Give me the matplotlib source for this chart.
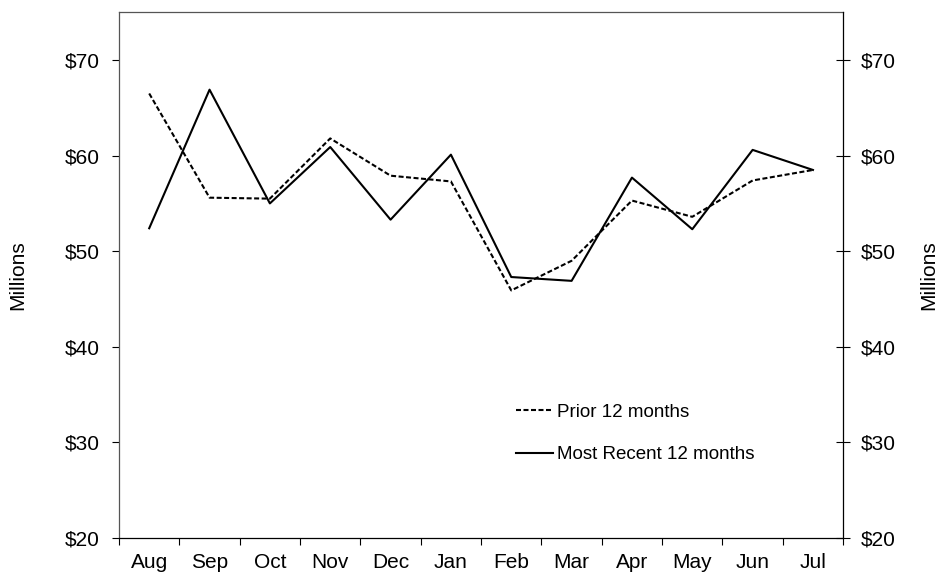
import matplotlib
matplotlib.use("Agg")
import matplotlib.pyplot as plt
from matplotlib.ticker import FixedLocator, FuncFormatter

plt.rcParams["font.family"] = ["Liberation Sans", "DejaVu Sans"]

# ---------------------------------------------------------------------------
# Data (millions of dollars)
# ---------------------------------------------------------------------------
months = ["Aug", "Sep", "Oct", "Nov", "Dec", "Jan",
          "Feb", "Mar", "Apr", "May", "Jun", "Jul"]
prior_12 = [66.5, 55.6, 55.5, 61.8, 57.9, 57.3,
            45.9, 49.0, 55.3, 53.6, 57.4, 58.5]
recent_12 = [52.4, 66.9, 55.0, 60.9, 53.3, 60.1,
             47.3, 46.9, 57.7, 52.3, 60.6, 58.5]
y_ticks = [20, 30, 40, 50, 60, 70]

# ---------------------------------------------------------------------------
# Plot
# ---------------------------------------------------------------------------
fig = plt.figure(figsize=(9.41, 5.74), dpi=100)
ax = fig.add_axes([0.1265, 0.0627, 0.7695, 0.916])

x = list(range(len(months)))
ax.plot(x, prior_12, color="black", linewidth=1.5, dashes=(2.4, 1.2),
        label="Prior 12 months")
ax.plot(x, recent_12, color="black", linewidth=1.5,
        label="Most Recent 12 months")

ax.set_xlim(-0.5, len(months) - 0.5)
ax.set_ylim(20, 75)

money = FuncFormatter(lambda v, _: f"${v:.0f}")

# x: ticks at the category boundaries, labels centred
ax.xaxis.set_major_locator(FixedLocator([i - 0.5 for i in range(len(months) + 1)]))
ax.xaxis.set_major_formatter(FuncFormatter(lambda v, _: ""))
ax.xaxis.set_minor_locator(FixedLocator(x))
ax.set_xticklabels(months, minor=True)
ax.tick_params(axis="x", which="major", direction="out", length=5, width=0.8)
ax.tick_params(axis="x", which="minor", length=0, labelsize=15, pad=11)

ax.set_yticks(y_ticks)
ax.yaxis.set_major_formatter(money)
ax.tick_params(axis="y", direction="out", length=5, width=0.8,
               labelsize=15, pad=9)
ax.set_ylabel("Millions", fontsize=15, labelpad=27)

for side in ("left", "top"):
    ax.spines[side].set_color("#555555")
    ax.spines[side].set_linewidth(0.9)
ax.spines["bottom"].set_linewidth(0.9)
ax.spines["right"].set_visible(False)

# right-hand axis, same scale
ax2 = ax.twinx()
ax2.set_ylim(ax.get_ylim())
ax2.set_yticks(y_ticks)
ax2.yaxis.set_major_formatter(money)
ax2.tick_params(axis="y", direction="inout", length=9.5, width=0.8,
                labelsize=15, pad=8)
ax2.set_ylabel("Millions", fontsize=15, labelpad=17)
for side in ("left", "top", "bottom"):
    ax2.spines[side].set_visible(False)
ax2.spines["right"].set_linewidth(0.9)

ax.legend(loc="upper left", bbox_to_anchor=(0.548, 0.255), frameon=False,
          fontsize=13.5, handlelength=1.97, handletextpad=0.2,
          labelspacing=1.33, borderpad=0, borderaxespad=0)

fig.savefig("out.png", dpi=100)
